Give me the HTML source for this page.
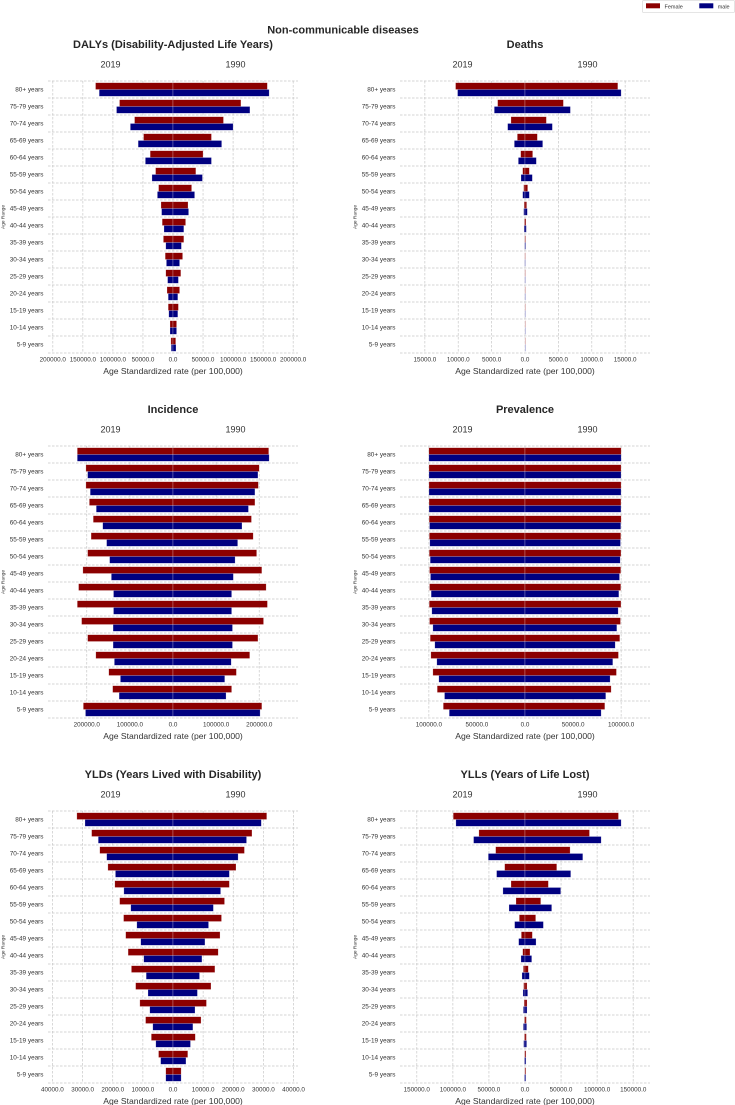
<!DOCTYPE html>
<html><head><meta charset="utf-8"><style>
html,body{margin:0;padding:0;background:#fff}
svg{display:block;font-family:"Liberation Sans",Arial,sans-serif}
</style></head><body>
<svg id="root" width="735" height="1105" viewBox="0 0 735 1105">
<text x="343" y="33.5" text-anchor="middle" font-size="11" font-weight="bold" fill="#262626">Non-communicable diseases</text>
<g>
<rect x="642.5" y="0.5" width="92" height="12" fill="#fff" stroke="#ddd" stroke-width="0.8" rx="1"/>
<rect x="646" y="3.3" width="14" height="5" fill="#8b0000"/>
<text x="664.5" y="8.3" font-size="5.5" fill="#333">Female</text>
<rect x="699.3" y="3.3" width="14" height="5" fill="#000080"/>
<text x="717.7" y="8.3" font-size="5.5" fill="#333">male</text>
</g>
</svg>
<script>
const ages = ["80+ years","75-79 years","70-74 years","65-69 years","60-64 years","55-59 years","50-54 years","45-49 years","40-44 years","35-39 years","30-34 years","25-29 years","20-24 years","15-19 years","10-14 years","5-9 years"];

const dalysF2019 = [128900,89000,64000,49000,38000,29000,24000,20000,18000,16000,13000,12000,10000,8000,5000,3500];
const dalysM2019 = [122800,94000,71000,58000,46000,35000,26000,19000,15000,12000,11000,9000,8000,7000,5000,3000];
const dalysF1990 = [157000,113000,84000,64000,50000,38000,31000,25000,21000,18000,16000,13000,11000,9000,6000,4500];
const dalysM1990 = [160000,128000,100000,81000,64000,49000,36000,26000,18000,14000,11000,9000,8000,8000,6000,5000];
const dalysTicks = [-200000,-150000,-100000,-50000,0,50000,100000,150000,200000];

const deathsF2019 = [10400,4100,2100,1150,650,350,200,150,100,60,40,30,20,15,10,8];
const deathsM2019 = [10100,4600,2600,1600,1000,600,350,200,150,70,50,35,25,20,10,8];
const deathsF1990 = [13900,5750,3200,1850,1150,650,400,250,150,90,60,40,25,20,10,8];
const deathsM1990 = [14400,6800,4100,2650,1700,1100,650,350,200,100,60,40,30,20,10,8];
const deathsTicks = [-15000,-10000,-5000,0,5000,10000,15000];

const incF2019 = [222000,202000,202000,194000,185000,190000,198000,209000,219000,222000,212000,198000,179000,149000,140000,208000];
const incM2019 = [222000,198000,192000,178000,163000,154000,147000,143000,138000,138000,139000,139000,136000,122000,125000,203000];
const incF1990 = [222000,200000,198000,190000,182000,186000,194000,206000,216000,219000,210000,197000,178000,147000,136000,206000];
const incM1990 = [223000,197000,190000,175000,160000,150000,144000,140000,136000,136000,138000,138000,135000,120000,123000,202000];
const incTicks = [-200000,-100000,0,100000,200000];

const prevF2019 = [99990,99900,99900,99800,99700,99500,99600,99300,99300,99600,99300,98600,97900,95800,91300,85000];
const prevM2019 = [99990,99900,99900,99800,99300,99000,98600,98300,97600,96900,95800,93800,91700,89600,83700,78800];
const prevF1990 = [99990,99900,99900,99800,100000,99600,99800,99600,99600,99800,99300,98600,97200,95100,89600,83000];
const prevM1990 = [99990,99900,99900,99800,99600,99300,99000,98300,97600,96900,95500,93800,91300,88500,84000,79200];
const prevTicks = [-100000,-50000,0,50000,100000];

const yldF2019 = [31900,27000,24300,21600,19300,17700,16400,15700,14900,13800,12400,11000,9100,7200,4800,2400];
const yldM2019 = [29200,24800,22000,19100,16300,14000,12000,10700,9700,8900,8300,7700,6700,5700,4100,2400];
const yldF1990 = [31100,26200,23700,20900,18700,17100,16100,15600,15000,13900,12600,11100,9300,7400,4900,2700];
const yldM1990 = [29300,24400,21600,18700,15800,13400,11800,10600,9600,8800,8100,7300,6600,5800,4300,2700];
const yldTicks = [-40000,-30000,-20000,-10000,0,10000,20000,30000,40000];

const yllF2019 = [99500,63900,40700,28200,19400,12500,7900,5100,3200,2300,1900,1400,1000,1000,700,500];
const yllM2019 = [95800,71300,50900,39400,30600,22200,14400,8800,5600,4200,2800,2300,2300,1900,900,900];
const yllF1990 = [129600,89400,62500,44000,32400,21800,14800,10200,6900,4600,2800,2800,1900,1900,1400,1200];
const yllM1990 = [133300,105600,80100,63400,49500,37000,25500,15300,9300,6000,3700,2800,2300,2300,1400,1200];
const yllTicks = [-150000,-100000,-50000,0,50000,100000,150000];

const NS = "http://www.w3.org/2000/svg";
const root = document.getElementById("root");
function mk(tag, attrs, parent){
  const e = document.createElementNS(NS, tag);
  for (const k in attrs) e.setAttribute(k, attrs[k]);
  (parent||root).appendChild(e);
  return e;
}

function drawChart(key, title, left, top, f19, m19, f90, m90, ticks){
  const width = 250, rowH = 17, n = ages.length;
  const plotH = rowH * n;
  const cx = left + width/2;
  const maxV = Math.max(...f19, ...m19, ...f90, ...m90);
  const lim = maxV * 1.3;
  const xs = v => cx + v / lim * (width/2);
  const yc = i => top + rowH * i + rowH/2;

  const g = mk("g", {});
  
  

  const t = mk("text", {x: cx, y: top - 33, "text-anchor": "middle", "font-size": 11, "font-weight": "bold", fill: "#262626"}, g);
  t.textContent = title;
  
  

  const y1 = mk("text", {x: cx - width/4, y: top - 13.5, "text-anchor": "middle", "font-size": 9, fill: "#333"}, g);
  y1.textContent = "2019";
  
  
  const y2 = mk("text", {x: cx + width/4, y: top - 13.5, "text-anchor": "middle", "font-size": 9, fill: "#333"}, g);
  y2.textContent = "1990";
  
  

  // grid
  for (let k = 0; k <= n; k++){
    const l = mk("line", {x1: left, x2: left + width, y1: top + k*rowH, y2: top + k*rowH, stroke: "#c8c8c8", "stroke-width": 0.7, "stroke-dasharray": "2.5,1.5"}, g);
    
    
  }
  ticks.forEach(tv => {
    const x = xs(tv);
    const l = mk("line", {x1: x, x2: x, y1: top, y2: top + plotH, stroke: "#c8c8c8", "stroke-width": 0.7, "stroke-dasharray": "2.5,1.5"}, g);
    
    
    const tl = mk("text", {x: x, y: top + plotH + 8.3, "text-anchor": "middle", "font-size": 6.3, fill: "#333"}, g);
    tl.textContent = Math.abs(tv).toFixed(1);
    
    
  });

  const bh = rowH * 0.4;
  function bar(x0, x1, y, color, name){
    const r = mk("rect", {x: Math.min(x0,x1), y: y, width: Math.max(0.4, Math.abs(x1-x0)), height: bh, fill: color, stroke: "rgba(255,255,255,0.45)", "stroke-width": 0.5}, g);
    
    
  }
  for (let i = 0; i < n; i++){
    const c = yc(i);
    bar(xs(-f19[i]), xs(0), c - bh, "#8b0000", key + '-bar-female-2019');
    bar(xs(-m19[i]), xs(0), c, "#000080", key + '-bar-male-2019');
    bar(xs(0), xs(f90[i]), c - bh, "#8b0000", key + '-bar-female-1990');
    bar(xs(0), xs(m90[i]), c, "#000080", key + '-bar-male-1990');
    const lb = mk("text", {x: left - 4.5, y: c + 2.2, "text-anchor": "end", "font-size": 6.4, fill: "#333"}, g);
    lb.textContent = ages[i];
    
    
  }

  const xl = mk("text", {x: cx, y: top + plotH + 20.8, "text-anchor": "middle", "font-size": 8.6, fill: "#333"}, g);
  xl.textContent = "Age Standardized rate (per 100,000)";
  
  

  const ay = top + plotH/2;
  const yl = mk("text", {x: left - 43.5, y: ay, "text-anchor": "middle", "font-size": 4.8, fill: "#333", transform: "rotate(-90 " + (left - 43.5) + " " + ay + ")"}, g);
  yl.textContent = "Age Range";
  
  
}

drawChart("dalys", "DALYs (Disability-Adjusted Life Years)", 48, 81, dalysF2019, dalysM2019, dalysF1990, dalysM1990, dalysTicks);
drawChart("deaths", "Deaths", 400, 81, deathsF2019, deathsM2019, deathsF1990, deathsM1990, deathsTicks);
drawChart("incidence", "Incidence", 48, 446, incF2019, incM2019, incF1990, incM1990, incTicks);
drawChart("prevalence", "Prevalence", 400, 446, prevF2019, prevM2019, prevF1990, prevM1990, prevTicks);
drawChart("ylds", "YLDs (Years Lived with Disability)", 48, 811, yldF2019, yldM2019, yldF1990, yldM1990, yldTicks);
drawChart("ylls", "YLLs (Years of Life Lost)", 400, 811, yllF2019, yllM2019, yllF1990, yllM1990, yllTicks);
</script>
</body></html>
